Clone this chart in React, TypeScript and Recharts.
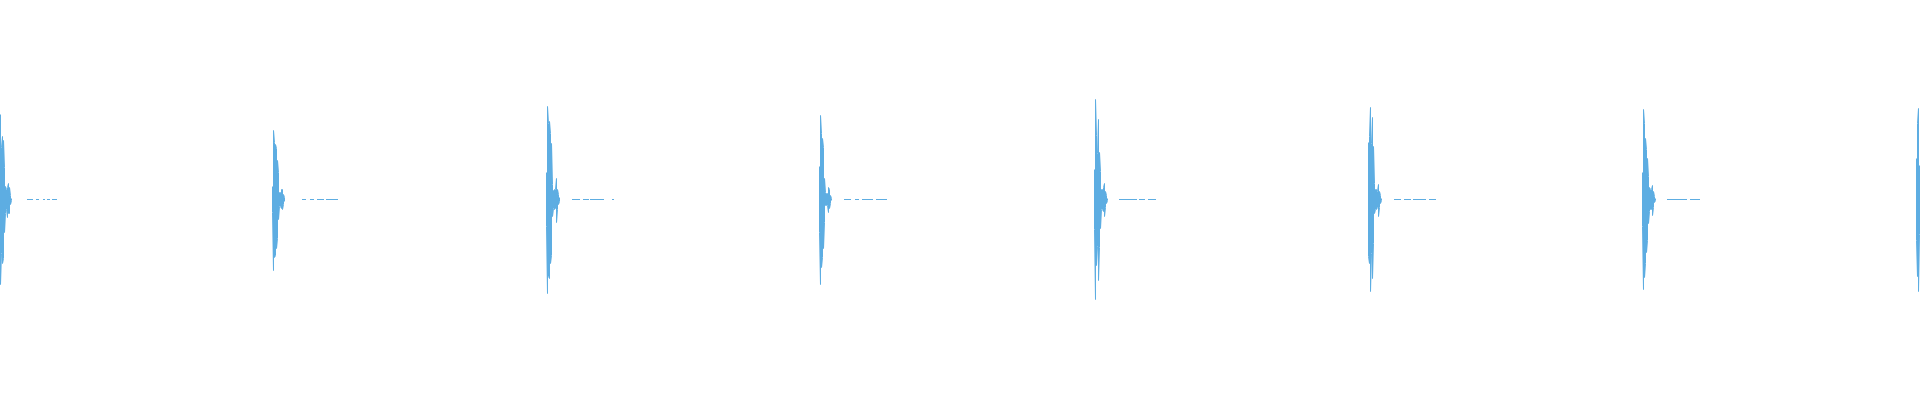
import { LineChart, Line, XAxis, YAxis } from "recharts";

const WIDTH = 1920;
const HEIGHT = 400;
const LINE_COLOR = "#5dade2";

// Where each burst begins (sample index, one sample column per pixel).
const burstStarts = [0, 272, 546, 819, 1094, 1368, 1642, 1916];

// Positive / negative peaks of each column of a burst.
const burst1Hi = [85, 52, 63, 59, 32, 13, 10, 12, 16, 12, 4, 1];
const burst1Lo = [-85, -54, -64, -59, -33, -14, -10, -18, -14, -14, -5, -1];
const burst2Hi = [13, 69, 57, 55, 51, 39, 27, 7, 7, 10, 10, 5, 2];
const burst2Lo = [-13, -71, -58, -56, -49, -39, -20, -7, -7, -9, -10, -5, -2];
const burst3Hi = [27, 93, 76, 78, 66, 56, 15, 9, 10, 10, 21, 10, 5, 2];
const burst3Lo = [-27, -94, -77, -79, -64, -56, -17, -9, -10, -9, -23, -10, -5, -2];
const burst4Hi = [33, 84, 66, 61, 52, 21, 7, 6, 6, 12, 10, 4, 1];
const burst4Lo = [-33, -85, -68, -58, -49, -23, -6, -6, -6, -13, -9, -4, -1];
const burst5Hi = [30, 100, 64, 46, 80, 47, 28, 10, 10, 12, 16, 8, 4, 1];
const burst5Lo = [-30, -100, -66, -47, -81, -48, -29, -10, -10, -12, -17, -8, -4, -1];
const burst6Hi = [57, 63, 92, 56, 82, 53, 16, 10, 10, 8, 15, 8, 4, 1];
const burst6Lo = [-57, -64, -92, -54, -79, -44, -14, -10, -10, -8, -17, -8, -4, -1];
const burst7Hi = [27, 90, 76, 61, 50, 41, 23, 12, 10, 10, 14, 8, 3, 1];
const burst7Lo = [-27, -90, -78, -64, -53, -41, -24, -12, -10, -10, -16, -8, -3, -1];
const burst8Hi = [41, 76, 91, 34];
const burst8Lo = [-41, -77, -92, -35];

// Quiet low-level stretches after each burst: [from, to] sample index.
const tail1 = [[27, 32], [36, 38], [43, 44], [47, 49], [52, 56]];
const tail2 = [[302, 305], [310, 313], [317, 319], [320, 323], [326, 332], [333, 337]];
const tail3 = [[572, 579], [583, 588], [590, 603], [612, 613]];
const tail4 = [[844, 850], [855, 858], [862, 872], [876, 886]];
const tail5 = [[1119, 1136], [1139, 1144], [1148, 1155]];
const tail6 = [[1394, 1400], [1404, 1410], [1413, 1425], [1429, 1435]];
const tail7 = [[1667, 1686], [1690, 1699]];

const bursts = [
  [burst1Hi, burst1Lo, tail1],
  [burst2Hi, burst2Lo, tail2],
  [burst3Hi, burst3Lo, tail3],
  [burst4Hi, burst4Lo, tail4],
  [burst5Hi, burst5Lo, tail5],
  [burst6Hi, burst6Lo, tail6],
  [burst7Hi, burst7Lo, tail7],
  [burst8Hi, burst8Lo, []],
] as [number[], number[], number[][]][];

type Pt = { t: number; v: number | null };

// Each column is a vertical swing between its two peaks; alternate the order
// so consecutive columns join at the same side.
const data: Pt[] = [];
bursts.forEach(([hi, lo, tail], b) => {
  const start = burstStarts[b];
  hi.forEach((h, i) => {
    const x = start + i + 0.5;
    const pair = i % 2 === 0 ? [h, lo[i]] : [lo[i], h];
    data.push({ t: x, v: pair[0] });
    data.push({ t: x, v: pair[1] });
  });
  data.push({ t: start + hi.length, v: null });
  tail.forEach(([a, z]) => {
    data.push({ t: a, v: 0 });
    data.push({ t: z + 1, v: 0 });
    data.push({ t: z + 1, v: null });
  });
});

export default function App() {
  return (
    <div style={{ position: "absolute", left: 0, top: 0, width: WIDTH, height: HEIGHT, background: "#fff" }}>
      <LineChart width={WIDTH} height={HEIGHT} data={data} margin={{ top: 0, right: 0, bottom: 0, left: 0 }}>
        <XAxis dataKey="t" type="number" domain={[0, WIDTH]} hide />
        <YAxis type="number" domain={[-200.5, 199.5]} hide />
        <Line
          type="linear"
          dataKey="v"
          stroke={LINE_COLOR}
          strokeWidth={1}
          dot={false}
          activeDot={false}
          connectNulls={false}
          isAnimationActive={false}
        />
      </LineChart>
    </div>
  );
}
